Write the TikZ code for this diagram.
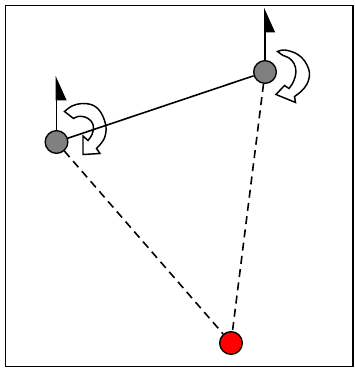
\documentclass[tikz,border=0pt]{standalone}
\usepackage{tikz}
\usetikzlibrary{arrows.meta}

\tikzset{
  joint/.style={circle,draw,line width=1pt,fill=gray,minimum size=17pt,inner sep=0pt},
  target/.style={circle,draw,line width=1pt,fill=red,minimum size=17pt,inner sep=0pt},
  axis/.style={line width=1.2pt,-{Triangle[right,length=17pt,width=15pt]}},
  turn/.style={draw,fill=white,line width=1.1pt,line join=miter}
}

\begin{document}
\begin{tikzpicture}[x=0.75pt,y=0.75pt,yscale=-1,xscale=1]
\useasboundingbox (0,0) rectangle (354,370);

%Frame
\draw[line width=1.3pt] (5.5,5.5) rectangle (352.8,366.5);

%Turning arrow, left joint
\path[turn] plot[smooth,tension=0.6] coordinates {(64.5,111.5) (72,106) (82,103.5) (93.5,105.5) (101.5,113.5) (106,127) (104,139) (96.5,148.5)}
  -- (100,153.5) -- (83,154.5) -- (83,136) -- (88,140.5)
  -- plot[smooth,tension=0.6] coordinates {(88,140.5) (92,134.5) (93.5,127) (91,121) (85,117) (78,116.5) (73.5,118.5)}
  -- cycle;
%Turning arrow, right joint
\path[turn] plot[smooth,tension=0.6] coordinates {(277.5,51.5) (285,50) (297,54) (305,61.5) (309.5,73) (307,84) (301,91.5) (294.5,96.5)}
  -- (295.5,102.5) -- (276,94.5) -- (284.5,85.5) -- (289,88.5)
  -- plot[smooth,tension=0.6] coordinates {(289,88.5) (293.5,81.5) (296,72) (294,63.5) (289,58) (283,55.5)}
  -- cycle;

%Joints and target
\node[joint] (left) at (56.5,142) {};
\node[joint] (right) at (265,72) {};
\node[target] (end) at (231,343) {};

%Links
\draw[line width=1.2pt] (left) -- (right);
\draw[line width=1.2pt,dash pattern=on 6pt off 4pt] (left) -- (end);
\draw[line width=1.2pt,dash pattern=on 6pt off 4pt] (right) -- (end);

%Axes
\coordinate (lefttip) at (56.5,76);
\coordinate (righttip) at (265,8);
\draw[axis] (left) -- (lefttip);
\draw[axis] (right) -- (righttip);

\end{tikzpicture}
\end{document}
